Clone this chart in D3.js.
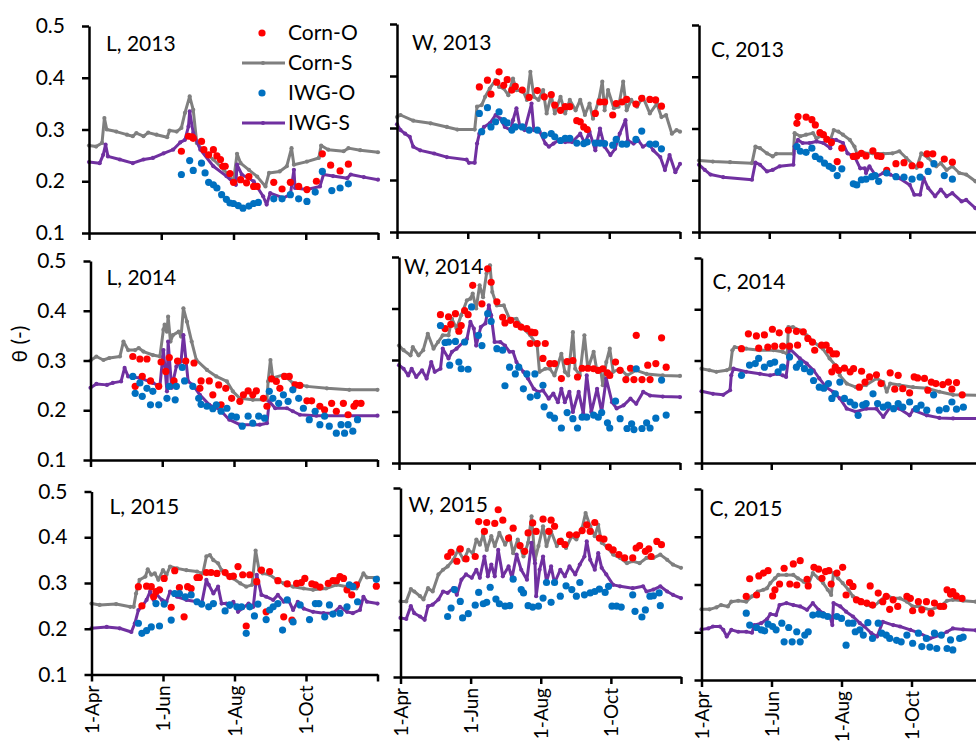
<!DOCTYPE html>
<html><head><meta charset="utf-8">
<script src="https://cdn.jsdelivr.net/npm/d3@7"></script>
<style>body{margin:0;background:#fff}svg{display:block}text{font-family:Lato,"Liberation Sans",sans-serif;fill:#000}</style>
</head><body><svg id="c" width="976" height="742"></svg>
<script>
// ---- tick labels / categories ----
const dateTicks = [0, 61, 122, 183, 244];           // days after 1-Apr
const dateLabels = ["1-Apr", "1-Jun", "1-Aug", "1-Oct", ""];
const yTicks = [0.1, 0.2, 0.3, 0.4, 0.5];
const sites = ["L", "W", "C"];
const years = [2013, 2014, 2015];
const seriesNames = ["Corn-O", "Corn-S", "IWG-O", "IWG-S"];
const seriesColors = ["#ff0000", "#7f7f7f", "#0070c0", "#7030a0"];

// ---- data: [day after 1-Apr, theta] ----
const L2013_cornS = [[0,.269],[6,.267],[11,.274],[13,.322],[15,.300],[23,.296],[32,.290],[37,.287],[40,.293],[46,.287],[50,.294],[57,.290],[66,.285],[68,.298],[74,.296],[78,.303],[81,.332],[85,.364],[88,.338],[91,.274],[97,.258],[105,.242],[114,.222],[122,.200],[125,.253],[128,.235],[135,.222],[142,.209],[149,.190],[152,.216],[161,.219],[167,.229],[171,.264],[173,.232],[184,.238],[194,.245],[196,.269],[202,.261],[215,.258],[219,.264],[229,.260],[244,.256]];
const L2013_iwgS = [[0,.237],[9,.235],[12,.251],[14,.271],[16,.248],[26,.242],[37,.235],[46,.242],[54,.245],[63,.254],[71,.261],[77,.275],[81,.280],[84,.306],[85,.335],[88,.293],[94,.261],[105,.229],[116,.210],[124,.193],[125,.232],[129,.213],[139,.200],[147,.171],[150,.155],[153,.177],[164,.168],[170,.174],[173,.222],[174,.187],[184,.184],[195,.190],[198,.213],[206,.210],[218,.206],[221,.213],[232,.208],[244,.203]];
const L2013_cornO = [[78,.258],[84,.287],[87,.286],[88,.283],[95,.277],[97,.261],[101,.251],[105,.261],[108,.249],[111,.242],[113,.229],[115,.229],[119,.215],[122,.198],[128,.203],[133,.197],[135,.209],[139,.190],[142,.190],[156,.198],[163,.185],[170,.198],[177,.190],[184,.184],[192,.200],[197,.253],[204,.231],[212,.220],[219,.233]];
const L2013_iwgO = [[78,.213],[85,.240],[88,.221],[95,.235],[98,.216],[101,.198],[105,.193],[108,.187],[112,.174],[116,.165],[119,.158],[122,.157],[126,.153],[130,.148],[135,.152],[139,.157],[143,.159],[156,.166],[163,.166],[170,.174],[177,.166],[184,.161],[191,.179],[197,.219],[205,.182],[212,.187],[219,.195]];

const W2013_cornS = [[0,.321],[3,.325],[14,.314],[29,.309],[43,.302],[52,.297],[67,.297],[69,.341],[73,.344],[76,.360],[80,.376],[85,.392],[88,.379],[92,.376],[96,.363],[100,.395],[103,.373],[109,.370],[112,.354],[115,.408],[118,.360],[122,.354],[126,.373],[129,.328],[133,.363],[136,.328],[141,.360],[145,.328],[149,.354],[154,.334],[158,.354],[162,.325],[166,.347],[169,.318],[174,.354],[177,.389],[179,.334],[182,.373],[187,.338],[191,.341],[195,.389],[198,.334],[202,.354],[207,.341],[212,.360],[218,.328],[224,.347],[228,.321],[232,.325],[237,.289],[241,.296],[244,.293]];
const W2013_iwgS = [[0,.307],[3,.296],[7,.289],[11,.283],[14,.264],[20,.257],[32,.251],[43,.244],[60,.239],[62,.233],[67,.233],[69,.270],[71,.289],[75,.302],[80,.309],[85,.325],[89,.318],[93,.302],[98,.296],[100,.315],[103,.338],[106,.302],[110,.296],[116,.347],[118,.296],[123,.293],[128,.270],[131,.264],[135,.270],[139,.276],[145,.273],[151,.273],[158,.289],[162,.270],[166,.293],[171,.257],[175,.299],[179,.264],[184,.248],[188,.260],[192,.289],[197,.315],[199,.276],[204,.270],[208,.276],[212,.264],[217,.270],[221,.257],[227,.244],[231,.219],[235,.248],[240,.215],[244,.231]];
const W2013_cornO = [[71,.379],[78,.392],[81,.365],[86,.388],[88,.408],[92,.382],[95,.393],[99,.373],[102,.380],[108,.373],[114,.359],[121,.372],[127,.360],[133,.364],[136,.344],[141,.334],[145,.341],[149,.341],[155,.314],[158,.312],[161,.302],[164,.297],[171,.328],[175,.350],[179,.350],[186,.325],[189,.347],[194,.350],[198,.355],[206,.346],[211,.357],[218,.355],[223,.354],[228,.342]];
const W2013_iwgO = [[71,.328],[73,.293],[78,.339],[81,.302],[85,.312],[88,.331],[92,.314],[95,.310],[99,.296],[102,.302],[108,.302],[114,.296],[121,.296],[127,.286],[133,.289],[136,.283],[141,.276],[145,.280],[149,.280],[155,.271],[161,.270],[164,.273],[171,.271],[175,.271],[179,.270],[186,.267],[189,.278],[194,.269],[198,.269],[206,.278],[211,.294],[218,.269],[223,.269],[228,.260]];

const C2013_cornS = [[0,.238],[12,.236],[27,.235],[46,.233],[49,.265],[53,.262],[59,.252],[64,.246],[67,.251],[82,.251],[83,.291],[88,.285],[93,.288],[99,.291],[102,.281],[108,.288],[114,.278],[117,.297],[121,.294],[125,.288],[131,.278],[135,.265],[138,.246],[144,.252],[151,.252],[160,.251],[168,.252],[174,.256],[180,.243],[189,.224],[193,.252],[199,.243],[206,.227],[210,.233],[215,.220],[220,.227],[226,.214],[232,.211],[240,.198],[244,.193]];
const C2013_iwgS = [[0,.230],[5,.220],[10,.211],[21,.206],[46,.201],[49,.234],[53,.230],[59,.217],[64,.220],[70,.227],[82,.230],[83,.265],[86,.278],[90,.272],[96,.272],[102,.275],[108,.272],[114,.262],[116,.278],[119,.278],[125,.272],[129,.252],[135,.246],[140,.223],[144,.223],[145,.214],[148,.227],[154,.207],[160,.214],[166,.211],[174,.204],[183,.191],[187,.172],[192,.172],[195,.204],[199,.185],[205,.169],[210,.182],[215,.169],[220,.175],[228,.159],[232,.162],[240,.146],[244,.142]];
const C2013_cornO = [[85,.310],[86,.323],[93,.322],[98,.317],[101,.307],[105,.292],[108,.288],[111,.279],[115,.273],[120,.236],[124,.262],[134,.246],[137,.247],[141,.252],[145,.247],[151,.257],[155,.247],[158,.246],[163,.219],[171,.232],[178,.234],[185,.228],[192,.230],[198,.251],[203,.251],[213,.241],[220,.235]];
const C2013_iwgO = [[85,.265],[88,.256],[93,.254],[98,.262],[101,.246],[105,.241],[109,.233],[113,.227],[116,.223],[120,.209],[124,.222],[134,.193],[137,.191],[141,.201],[145,.202],[150,.207],[153,.209],[156,.198],[163,.214],[171,.207],[178,.206],[185,.202],[192,.206],[199,.217],[204,.232],[213,.209],[220,.202]];

const L2014_cornS = [[0,.300],[5,.308],[11,.301],[16,.305],[25,.308],[28,.338],[32,.321],[38,.321],[41,.325],[45,.318],[53,.311],[59,.308],[62,.362],[63,.372],[65,.358],[66,.388],[68,.338],[70,.351],[75,.358],[77,.348],[79,.405],[82,.378],[86,.338],[90,.301],[99,.281],[107,.268],[116,.258],[121,.238],[127,.224],[138,.221],[150,.221],[151,.258],[153,.301],[155,.265],[164,.271],[172,.255],[184,.248],[201,.244],[220,.241],[244,.241]];
const L2014_iwgS = [[0,.245],[5,.253],[14,.251],[19,.255],[26,.258],[29,.285],[32,.268],[42,.265],[53,.255],[59,.248],[62,.321],[65,.238],[66,.338],[69,.245],[73,.288],[77,.298],[79,.351],[83,.258],[87,.251],[93,.231],[101,.211],[110,.201],[118,.181],[127,.171],[144,.171],[150,.174],[152,.218],[157,.204],[167,.204],[172,.198],[178,.191],[192,.189],[244,.189]];
const L2014_cornO = [[36,.308],[38,.248],[42,.303],[44,.268],[48,.303],[51,.259],[58,.248],[60,.297],[64,.278],[67,.306],[71,.259],[74,.299],[81,.299],[88,.295],[93,.244],[94,.259],[101,.259],[104,.231],[109,.251],[111,.211],[115,.244],[120,.224],[127,.218],[130,.231],[134,.239],[138,.231],[141,.239],[147,.224],[150,.208],[154,.263],[158,.258],[161,.244],[165,.268],[169,.268],[174,.251],[178,.250],[184,.219],[188,.219],[195,.208],[199,.201],[205,.214],[209,.198],[215,.214],[219,.191],[224,.208],[226,.214],[230,.214]];
const L2014_iwgO = [[36,.268],[38,.234],[42,.255],[44,.228],[48,.244],[51,.211],[53,.238],[58,.211],[65,.224],[67,.248],[72,.221],[73,.248],[78,.286],[80,.259],[87,.248],[92,.224],[94,.212],[99,.208],[104,.203],[107,.211],[111,.198],[116,.204],[120,.188],[124,.186],[129,.168],[134,.188],[138,.174],[143,.188],[148,.184],[152,.238],[155,.224],[160,.214],[164,.231],[168,.218],[172,.241],[177,.224],[181,.204],[186,.181],[191,.198],[195,.171],[199,.188],[203,.168],[209,.154],[213,.171],[216,.154],[219,.171],[223,.158],[227,.181]];

const W2014_cornS = [[0,.328],[4,.319],[10,.309],[12,.325],[17,.309],[21,.319],[25,.351],[30,.322],[34,.335],[38,.348],[43,.348],[46,.380],[50,.361],[54,.387],[59,.416],[62,.419],[64,.429],[67,.400],[70,.445],[73,.422],[76,.468],[79,.484],[81,.432],[85,.406],[91,.406],[96,.380],[102,.380],[108,.361],[114,.348],[120,.328],[122,.277],[127,.283],[131,.283],[135,.270],[141,.312],[144,.277],[147,.270],[151,.354],[153,.283],[157,.270],[161,.348],[164,.283],[169,.316],[172,.277],[175,.283],[177,.251],[180,.296],[183,.322],[186,.277],[192,.283],[198,.270],[206,.280],[215,.273],[229,.270],[244,.269]];
const W2014_iwgS = [[0,.290],[4,.283],[8,.270],[11,.283],[15,.267],[20,.280],[24,.264],[28,.296],[31,.277],[36,.283],[38,.322],[43,.303],[46,.316],[50,.322],[56,.335],[59,.341],[62,.374],[65,.361],[67,.328],[71,.364],[75,.371],[78,.406],[80,.387],[83,.335],[88,.335],[92,.328],[96,.316],[99,.316],[102,.296],[108,.277],[112,.264],[117,.244],[121,.238],[125,.241],[130,.225],[134,.235],[138,.218],[141,.244],[144,.218],[148,.238],[151,.199],[156,.238],[160,.196],[163,.270],[167,.199],[172,.244],[176,.199],[180,.264],[185,.218],[189,.206],[195,.212],[201,.225],[206,.215],[212,.238],[218,.231],[229,.229],[244,.228]];
const W2014_cornO = [[36,.388],[40,.361],[43,.384],[45,.369],[49,.390],[52,.356],[54,.367],[57,.396],[60,.388],[64,.445],[72,.409],[77,.477],[80,.451],[85,.413],[90,.383],[92,.372],[97,.377],[102,.369],[106,.364],[111,.361],[114,.332],[115,.354],[118,.353],[120,.332],[125,.303],[127,.332],[131,.293],[135,.293],[141,.264],[146,.297],[151,.299],[155,.267],[159,.284],[164,.284],[169,.283],[173,.280],[177,.283],[181,.275],[183,.270],[188,.296],[192,.280],[197,.262],[201,.284],[204,.262],[206,.348],[211,.262],[216,.290],[218,.262],[223,.293],[228,.343],[232,.286]];
const W2014_iwgO = [[36,.367],[40,.334],[43,.335],[44,.290],[49,.336],[52,.296],[54,.283],[57,.335],[60,.282],[63,.403],[69,.348],[72,.328],[77,.390],[80,.375],[85,.322],[90,.319],[92,.250],[96,.286],[101,.273],[104,.286],[108,.244],[111,.273],[114,.228],[118,.273],[120,.231],[125,.251],[126,.209],[131,.193],[135,.187],[141,.168],[146,.198],[151,.186],[155,.168],[159,.189],[163,.189],[169,.193],[173,.189],[176,.198],[181,.178],[183,.168],[188,.220],[192,.186],[198,.167],[202,.176],[204,.165],[206,.283],[211,.167],[215,.178],[218,.168],[223,.187],[228,.261],[232,.193]];

const C2014_cornS = [[0,.284],[7,.281],[13,.278],[22,.281],[25,.284],[27,.320],[29,.326],[39,.323],[51,.320],[63,.320],[71,.317],[75,.313],[76,.365],[80,.365],[86,.359],[92,.349],[98,.336],[106,.323],[112,.304],[117,.291],[121,.271],[127,.255],[135,.248],[144,.252],[153,.265],[159,.258],[162,.239],[165,.255],[173,.252],[185,.248],[197,.246],[208,.239],[220,.233],[244,.232]];
const C2014_iwgS = [[0,.240],[10,.235],[19,.233],[25,.242],[26,.271],[28,.284],[39,.278],[51,.274],[60,.271],[66,.274],[71,.271],[74,.268],[77,.323],[86,.304],[92,.294],[98,.281],[103,.265],[109,.248],[115,.239],[121,.226],[127,.206],[135,.200],[144,.206],[153,.206],[159,.190],[165,.209],[173,.206],[182,.193],[185,.203],[197,.193],[208,.188],[220,.187],[244,.187]];
const C2014_cornO = [[35,.323],[41,.352],[48,.348],[50,.324],[55,.350],[58,.326],[62,.361],[64,.328],[68,.354],[71,.328],[76,.359],[77,.328],[83,.357],[84,.330],[89,.356],[93,.343],[97,.336],[99,.320],[105,.330],[109,.330],[112,.320],[115,.313],[118,.313],[114,.278],[117,.287],[120,.281],[125,.285],[130,.278],[133,.284],[138,.248],[140,.279],[143,.258],[147,.268],[153,.272],[157,.255],[165,.276],[169,.244],[172,.271],[176,.245],[182,.237],[186,.268],[189,.266],[195,.265],[198,.242],[201,.258],[205,.255],[211,.253],[216,.258],[219,.244],[223,.257],[228,.233]];
const C2014_iwgO = [[35,.271],[42,.291],[47,.294],[50,.304],[55,.287],[60,.294],[64,.297],[67,.278],[71,.287],[77,.307],[83,.287],[86,.294],[90,.284],[95,.278],[98,.261],[103,.248],[107,.246],[111,.255],[114,.226],[117,.235],[121,.258],[125,.226],[130,.219],[134,.213],[137,.193],[141,.213],[144,.216],[150,.235],[154,.216],[159,.209],[163,.213],[168,.206],[172,.216],[176,.209],[182,.219],[188,.206],[192,.213],[197,.203],[203,.233],[208,.203],[214,.206],[219,.219],[223,.205],[229,.209]];

const L2015_cornS = [[0,.255],[7,.252],[21,.254],[33,.248],[36,.248],[38,.277],[41,.307],[46,.314],[48,.330],[51,.318],[54,.321],[57,.307],[61,.328],[64,.318],[67,.336],[73,.332],[81,.328],[90,.325],[95,.321],[98,.358],[101,.361],[104,.350],[108,.343],[111,.328],[115,.318],[121,.310],[127,.299],[132,.292],[137,.296],[140,.371],[143,.328],[146,.321],[152,.318],[158,.307],[164,.299],[172,.292],[181,.288],[189,.285],[200,.288],[209,.296],[218,.292],[226,.288],[232,.321],[235,.312],[244,.312]];
const L2015_iwgS = [[0,.201],[13,.204],[24,.201],[34,.193],[37,.212],[40,.241],[43,.248],[47,.263],[50,.281],[53,.263],[55,.277],[60,.263],[64,.259],[67,.281],[73,.270],[81,.263],[90,.259],[94,.255],[98,.307],[100,.296],[104,.277],[108,.292],[111,.255],[115,.255],[118,.248],[121,.259],[125,.237],[129,.245],[134,.255],[138,.248],[141,.318],[145,.274],[149,.270],[155,.263],[159,.274],[164,.259],[168,.263],[172,.241],[176,.259],[181,.244],[189,.237],[198,.234],[206,.234],[212,.248],[218,.237],[223,.234],[229,.241],[232,.270],[235,.259],[244,.255]];
const L2015_cornO = [[40,.292],[43,.250],[47,.293],[51,.292],[53,.270],[55,.281],[58,.285],[62,.310],[68,.247],[71,.327],[75,.290],[79,.226],[82,.292],[85,.288],[90,.312],[92,.312],[98,.323],[102,.323],[107,.321],[114,.323],[118,.314],[121,.315],[125,.336],[129,.318],[132,.206],[135,.318],[141,.303],[145,.328],[149,.237],[152,.325],[159,.305],[164,.226],[167,.298],[171,.219],[175,.299],[179,.301],[182,.310],[188,.298],[191,.296],[195,.291],[202,.299],[206,.305],[209,.305],[212,.314],[215,.310],[218,.285],[222,.274],[226,.296],[243,.293]];
const L2015_iwgO = [[40,.212],[43,.190],[47,.196],[51,.204],[55,.255],[58,.206],[62,.254],[68,.219],[71,.277],[75,.277],[80,.270],[85,.274],[90,.259],[94,.254],[100,.248],[104,.255],[114,.239],[118,.252],[124,.248],[128,.248],[132,.190],[135,.248],[139,.228],[142,.254],[149,.220],[152,.241],[155,.248],[159,.255],[163,.197],[167,.263],[172,.215],[178,.252],[186,.220],[191,.255],[194,.255],[199,.226],[203,.252],[206,.232],[212,.234],[218,.248],[220,.296],[223,.292],[227,.259],[243,.308]];

const W2015_cornS = [[0,.260],[5,.260],[9,.286],[12,.281],[17,.271],[20,.264],[24,.288],[28,.281],[33,.317],[37,.327],[41,.334],[46,.348],[50,.369],[55,.348],[59,.369],[63,.362],[66,.391],[69,.380],[72,.401],[75,.369],[79,.398],[82,.377],[86,.405],[91,.380],[95,.398],[98,.362],[102,.391],[107,.355],[111,.384],[114,.440],[117,.348],[120,.377],[124,.419],[127,.377],[131,.408],[136,.377],[140,.391],[144,.373],[149,.398],[153,.391],[158,.415],[161,.447],[165,.419],[169,.398],[172,.422],[175,.384],[179,.377],[185,.359],[191,.352],[197,.341],[202,.345],[208,.341],[214,.352],[220,.352],[226,.359],[232,.348],[237,.338],[244,.331]];
const W2015_iwgS = [[0,.225],[5,.223],[9,.250],[12,.235],[17,.228],[21,.221],[24,.250],[28,.253],[33,.264],[37,.281],[41,.278],[46,.288],[49,.274],[53,.306],[57,.317],[62,.310],[66,.327],[69,.310],[73,.355],[76,.313],[79,.338],[82,.313],[85,.369],[89,.313],[94,.334],[97,.310],[101,.359],[105,.327],[110,.306],[114,.384],[117,.341],[118,.271],[121,.327],[124,.355],[127,.302],[131,.334],[134,.299],[139,.327],[143,.313],[147,.334],[152,.317],[156,.338],[160,.355],[162,.387],[165,.348],[169,.327],[172,.362],[175,.331],[179,.317],[185,.295],[191,.292],[202,.288],[211,.292],[214,.281],[220,.285],[226,.292],[232,.281],[237,.274],[244,.267]];
const W2015_cornO = [[41,.355],[44,.364],[49,.345],[52,.371],[57,.350],[65,.355],[68,.429],[73,.408],[75,.427],[82,.425],[85,.454],[89,.432],[94,.394],[98,.415],[104,.378],[108,.366],[111,.405],[115,.426],[118,.408],[124,.434],[129,.408],[131,.432],[134,.419],[139,.387],[143,.380],[147,.401],[153,.401],[158,.410],[162,.422],[165,.408],[169,.427],[173,.394],[177,.392],[181,.375],[185,.369],[190,.359],[195,.352],[202,.352],[205,.373],[208,.378],[213,.366],[216,.371],[218,.355],[223,.387],[227,.380]];
const W2015_iwgO = [[41,.228],[44,.246],[47,.285],[52,.260],[54,.225],[59,.234],[65,.252],[68,.279],[72,.255],[75,.258],[78,.290],[83,.265],[86,.255],[91,.250],[95,.251],[98,.307],[105,.285],[107,.278],[111,.251],[115,.248],[120,.250],[124,.267],[127,.300],[131,.258],[134,.300],[139,.271],[144,.293],[149,.285],[153,.271],[156,.300],[160,.274],[165,.278],[169,.281],[173,.286],[178,.279],[181,.292],[184,.250],[188,.250],[192,.248],[202,.274],[204,.239],[210,.227],[213,.242],[217,.271],[220,.272],[225,.278],[226,.251]];

const C2015_cornS = [[0,.248],[7,.248],[13,.252],[17,.257],[23,.254],[26,.264],[32,.266],[39,.264],[44,.275],[49,.285],[54,.289],[57,.292],[60,.303],[64,.313],[67,.320],[74,.320],[80,.320],[84,.313],[89,.306],[93,.299],[97,.324],[102,.313],[106,.303],[110,.289],[113,.278],[115,.324],[119,.313],[123,.303],[128,.289],[132,.275],[138,.268],[144,.257],[150,.254],[155,.264],[161,.278],[167,.271],[173,.271],[179,.264],[184,.254],[190,.254],[199,.247],[208,.254],[214,.266],[219,.268],[228,.266],[239,.264],[244,.263]];
const C2015_iwgS = [[0,.206],[6,.208],[10,.212],[16,.212],[19,.205],[22,.191],[26,.205],[32,.201],[39,.201],[44,.199],[46,.215],[52,.219],[57,.227],[60,.238],[65,.236],[68,.257],[74,.261],[80,.257],[86,.254],[92,.247],[97,.261],[102,.247],[106,.240],[112,.233],[114,.215],[115,.261],[121,.254],[126,.243],[132,.233],[138,.219],[142,.212],[148,.198],[153,.191],[158,.222],[167,.215],[173,.212],[182,.205],[190,.198],[199,.187],[208,.194],[214,.201],[219,.208],[228,.206],[239,.204],[244,.204]];
const C2015_cornO = [[39,.275],[42,.312],[48,.278],[50,.318],[54,.324],[58,.329],[62,.276],[64,.289],[68,.301],[72,.334],[77,.301],[80,.343],[83,.299],[86,.350],[92,.311],[93,.297],[98,.336],[102,.332],[105,.313],[108,.327],[111,.329],[113,.301],[118,.324],[123,.336],[126,.278],[129,.304],[132,.296],[135,.268],[139,.264],[144,.261],[147,.297],[149,.257],[154,.282],[158,.264],[161,.275],[164,.248],[167,.268],[171,.254],[179,.275],[182,.271],[184,.245],[189,.264],[192,.247],[196,.264],[200,.240],[203,.261],[208,.254],[211,.254],[214,.289],[217,.280],[219,.285],[222,.276],[227,.271]];
const C2015_iwgO = [[39,.240],[42,.215],[48,.210],[52,.205],[55,.203],[58,.217],[62,.212],[65,.205],[70,.219],[72,.180],[76,.210],[79,.180],[83,.201],[86,.180],[90,.194],[93,.201],[97,.236],[102,.238],[106,.236],[110,.233],[118,.233],[122,.229],[126,.173],[128,.219],[132,.219],[134,.201],[138,.205],[141,.194],[145,.220],[149,.187],[154,.219],[157,.198],[161,.194],[164,.187],[170,.183],[174,.180],[179,.194],[184,.177],[189,.198],[192,.170],[196,.187],[199,.169],[203,.198],[205,.166],[209,.194],[214,.166],[217,.184],[219,.163],[225,.187],[228,.190]];

// panel list built from the named arrays (row-major)
const panelData = [
  [L2013_cornO, L2013_cornS, L2013_iwgO, L2013_iwgS],
  [W2013_cornO, W2013_cornS, W2013_iwgO, W2013_iwgS],
  [C2013_cornO, C2013_cornS, C2013_iwgO, C2013_iwgS],
  [L2014_cornO, L2014_cornS, L2014_iwgO, L2014_iwgS],
  [W2014_cornO, W2014_cornS, W2014_iwgO, W2014_iwgS],
  [C2014_cornO, C2014_cornS, C2014_iwgO, C2014_iwgS],
  [L2015_cornO, L2015_cornS, L2015_iwgO, L2015_iwgS],
  [W2015_cornO, W2015_cornS, W2015_iwgO, W2015_iwgS],
  [C2015_cornO, C2015_cornS, C2015_iwgO, C2015_iwgS]
];

// ---- layout (pixels) ----
const layout = [
  {x:89,   y:26,   w:289,   h:207, tx:17, ty:18},
  {x:397,  y:24,   w:283,   h:208, tx:15, ty:19},
  {x:699,  y:25,   w:281,   h:207, tx:12, ty:25},
  {x:90.5, y:261,  w:287,   h:199, tx:16, ty:17},
  {x:399,  y:257,  w:281,   h:206, tx:5,  ty:10},
  {x:701.5,y:258,  w:279,   h:205, tx:11, ty:24},
  {x:91.5, y:491.5,w:286,   h:183, tx:18, ty:15},
  {x:400.5,y:488,  w:280.5, h:189, tx:8,  ty:17},
  {x:701.5,y:489,  w:280,   h:191, tx:8,  ty:20}
];
const FS = 21;

const svg = d3.select("#c");
svg.append("rect").attr("width",976).attr("height",742).attr("fill","#fff");

panelData.forEach((series, i) => {
  const row = Math.floor(i/3), col = i%3, L = layout[i];
  const x = d3.scaleLinear([0,244],[L.x, L.x+L.w]);
  const y = d3.scaleLinear([0.1,0.5],[L.y+L.h, L.y]);
  const g = svg.append("g");

  // simulated lines (Corn-S, IWG-S)
  [1,3].forEach(k => {
    const line = d3.line().x(d=>x(d[0])).y(d=>y(d[1]));
    g.append("path").datum(series[k]).attr("d", line)
      .attr("fill","none").attr("stroke",seriesColors[k]).attr("stroke-width",3)
      .attr("stroke-linejoin","round");
    g.selectAll(null).data(series[k]).join("circle")
      .attr("cx",d=>x(d[0])).attr("cy",d=>y(d[1])).attr("r",2.1).attr("fill",seriesColors[k]);
  });
  // observed dots
  [0,2].forEach(k => {
    g.selectAll(null).data(series[k]).join("circle")
      .attr("cx",d=>x(d[0])).attr("cy",d=>y(d[1])).attr("r",3.6).attr("fill",seriesColors[k]);
  });

  // axes
  const ya = d3.axisLeft(y).tickValues(yTicks).tickSize(7).tickSizeOuter(0).tickPadding(17)
    .tickFormat(col===0 ? d3.format(".1f") : () => "");
  const yg = svg.append("g").attr("transform",`translate(${L.x},0)`).call(ya);
  const xa = d3.axisBottom(x).tickValues(dateTicks).tickSize(7).tickSizeOuter(0)
    .tickFormat((d,j) => row===2 ? dateLabels[j] : "");
  const xg = svg.append("g").attr("transform",`translate(0,${L.y+L.h})`).call(xa);
  [yg,xg].forEach(a => {
    a.select(".domain").attr("stroke","#000").attr("stroke-width",2.5);
    a.selectAll(".tick line").attr("stroke","#000").attr("stroke-width",2.5);
    a.selectAll("text").attr("font-size",FS).attr("font-family","Lato, 'Liberation Sans', sans-serif").attr("fill","#000");
  });
  xg.selectAll(".tick text").attr("transform","rotate(-90)").attr("text-anchor","end")
    .attr("font-size",19).attr("x",-11).attr("y",0).attr("dy","0.35em");

  // panel title
  svg.append("text").attr("x",L.x+L.tx).attr("y",L.y+L.ty).attr("dy","0.35em")
    .attr("font-size",FS).text(`${sites[col]}, ${years[row]}`);
});

// y-axis title
svg.append("text").attr("transform","translate(20,344) rotate(-90)").attr("text-anchor","middle")
  .attr("dy","0.35em").attr("font-size",FS).text("θ (-)");

// legend in first panel
const leg = svg.append("g");
const legY = [33, 63, 93, 123];
seriesNames.forEach((n,k) => {
  if (k%2===0) {
    leg.append("circle").attr("cx",262).attr("cy",legY[k]).attr("r",3.6).attr("fill",seriesColors[k]);
  } else {
    leg.append("line").attr("x1",242).attr("x2",285).attr("y1",legY[k]).attr("y2",legY[k])
      .attr("stroke",seriesColors[k]).attr("stroke-width",3);
    leg.append("circle").attr("cx",263).attr("cy",legY[k]).attr("r",2.1).attr("fill",seriesColors[k]);
  }
  leg.append("text").attr("x",288).attr("y",legY[k]).attr("dy","0.35em").attr("font-size",FS).text(n);
});
</script></body></html>
